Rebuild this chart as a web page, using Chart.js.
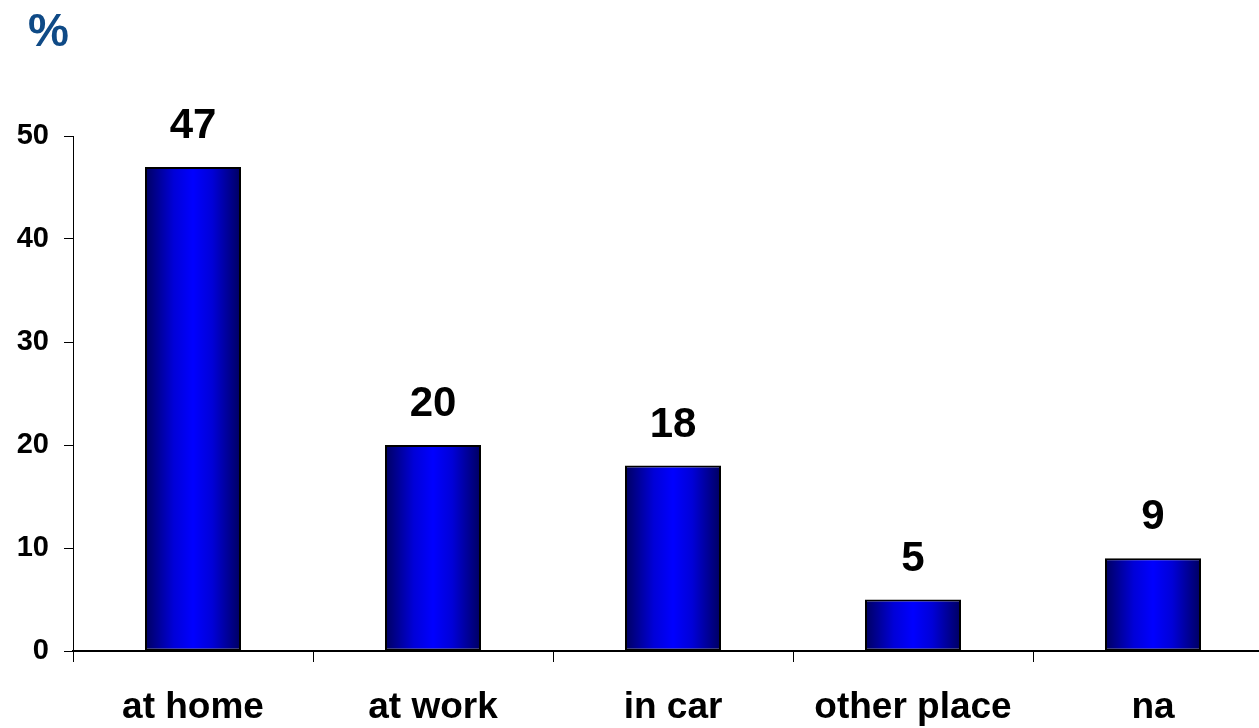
<!DOCTYPE html>
<html>
<head>
<meta charset="utf-8">
<script src="https://cdn.jsdelivr.net/npm/chart.js@4"></script>
<style>
  html, body { margin: 0; padding: 0; background: #fff; overflow: hidden; }
  canvas { display: block; }
</style>
</head>
<body>
<canvas id="chartLugar" width="1280" height="728"></canvas>
<script>
// datos
const categorias = ["at home", "at work", "in car", "other place", "na"];
const valores = [47, 20, 18, 5, 9];
const ticksY = [0, 10, 20, 30, 40, 50];

const FONT = "'Liberation Sans', Arial, sans-serif";
const ANCHO_BARRA = 0.4;

// degradado horizontal de cada barra (oscuro en bordes, azul vivo al centro)
function gradienteBarra(context) {
    const chart = context.chart;
    const xScale = chart.scales.x;
    if (!chart.chartArea || !xScale || context.dataIndex === undefined) return "#0000ff";
    const cx = xScale.getPixelForValue(context.dataIndex);
    const half = (chart.chartArea.width / categorias.length) * ANCHO_BARRA / 2;
    if (!Number.isFinite(cx) || !Number.isFinite(half)) return "#0000ff";
    const g = chart.ctx.createLinearGradient(cx - half, 0, cx + half, 0);
    g.addColorStop(0, "#000060");
    g.addColorStop(0.3, "#0000d8");
    g.addColorStop(0.5, "#0000ff");
    g.addColorStop(0.7, "#0000d8");
    g.addColorStop(1, "#000060");
    return g;
}

// etiquetas de valor encima de las barras + "%"
const etiquetas = {
    id: "etiquetas",
    afterDatasetsDraw(chart) {
        const ctx = chart.ctx;
        const meta = chart.getDatasetMeta(0);
        ctx.save();
        ctx.fillStyle = "#000";
        ctx.font = "bold 42px " + FONT;
        ctx.textAlign = "center";
        ctx.textBaseline = "alphabetic";
        meta.data.forEach((bar, i) => {
            ctx.fillText(String(valores[i]), bar.x, bar.y - 29);
        });
        ctx.fillStyle = "#0f4a86";
        ctx.font = "bold 46px " + FONT;
        ctx.textAlign = "left";
        ctx.fillText("%", 28, 46);
        ctx.restore();
    }
};

const ctx = document.getElementById("chartLugar").getContext("2d");
new Chart(ctx, {
    type: "bar",
    data: {
        labels: categorias,
        datasets: [{
            data: valores,
            backgroundColor: gradienteBarra,
            borderColor: "#000",
            borderWidth: 2,
            borderSkipped: false,
            barPercentage: ANCHO_BARRA,
            categoryPercentage: 1.0
        }]
    },
    options: {
        responsive: false,
        animation: false,
        layout: { padding: { top: 136, right: 7, left: 0, bottom: 0 } },
        plugins: {
            legend: { display: false },
            tooltip: { enabled: false }
        },
        scales: {
            x: {
                offset: true,
                grid: {
                    offset: true,
                    drawOnChartArea: false,
                    drawTicks: true,
                    tickLength: 11,
                    color: "#000",
                    lineWidth: 1
                },
                border: { display: true, color: "#000", width: 2 },
                ticks: {
                    color: "#000",
                    font: { family: FONT, size: 37, weight: "bold" },
                    padding: 24,
                    maxRotation: 0,
                    autoSkip: false
                },
                afterFit: (scale) => { scale.height = 77; }
            },
            y: {
                min: 0,
                max: 50,
                afterBuildTicks: (scale) => { scale.ticks = ticksY.map(v => ({ value: v })); },
                grid: {
                    drawOnChartArea: false,
                    drawTicks: true,
                    tickLength: 9,
                    color: "#000",
                    lineWidth: 1
                },
                border: { display: true, color: "#000", width: 1 },
                ticks: {
                    color: "#000",
                    font: { family: FONT, size: 29, weight: "bold" },
                    padding: 15
                },
                afterFit: (scale) => { scale.width = 73; }
            }
        }
    },
    plugins: [etiquetas]
});
</script>
</body>
</html>
